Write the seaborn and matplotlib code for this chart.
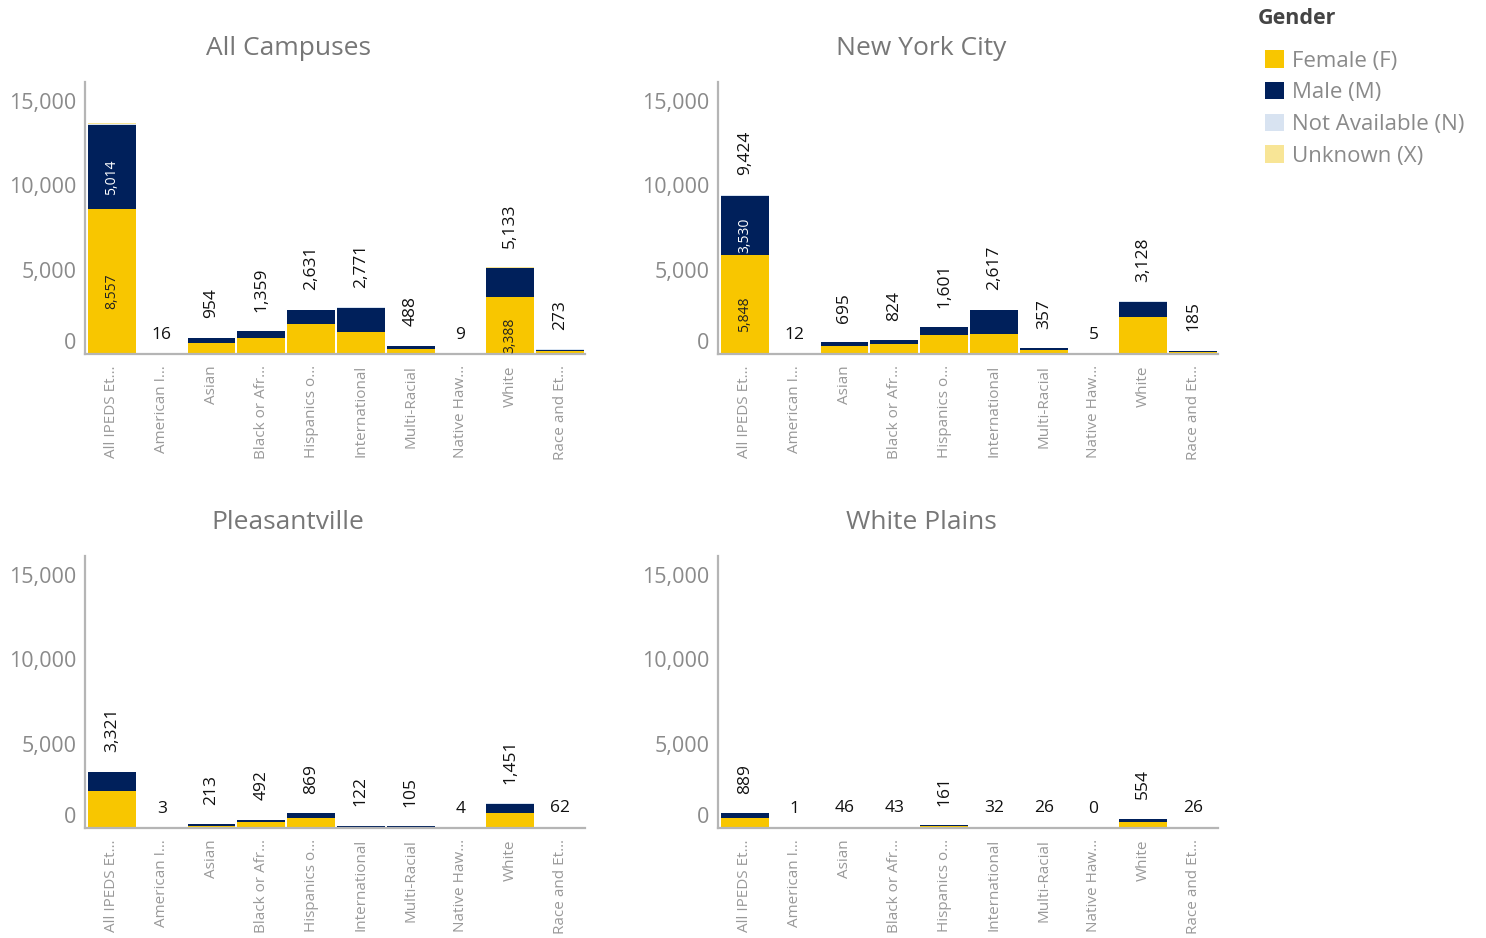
import pandas as pd
import matplotlib
matplotlib.use('Agg')
import matplotlib.pyplot as plt
from matplotlib.patches import Patch
import seaborn as sns

# categories (truncated the way the dashboard shows them)
groups = ['All IPEDS Et…', 'American I…', 'Asian', 'Black or Afr…', 'Hispanics o…',
          'International', 'Multi-Racial', 'Native Haw…', 'White', 'Race and Et…']
campuses = ['All Campuses', 'New York City', 'Pleasantville', 'White Plains']
genders = ['Female (F)', 'Male (M)', 'Not Available (N)', 'Unknown (X)']
gender_colors = ['#F8C600', '#00205B', '#D8E3F1', '#F8E596']

# enrolment counts per campus and gender
all_female = [8557, 7, 640, 950, 1800, 1300, 320, 4, 3388, 160]
all_male = [5014, 9, 300, 390, 800, 1450, 160, 5, 1700, 100]
all_na = [40, 0, 14, 19, 31, 21, 8, 0, 20, 13]
all_unk = [60, 0, 0, 0, 0, 0, 0, 0, 25, 0]

nyc_female = [5848, 5, 480, 600, 1130, 1190, 240, 3, 2180, 130]
nyc_male = [3530, 7, 205, 215, 450, 1410, 110, 2, 920, 45]
nyc_na = [20, 0, 10, 9, 21, 17, 7, 0, 28, 10]
nyc_unk = [26, 0, 0, 0, 0, 0, 0, 0, 0, 0]

pv_female = [2170, 1, 130, 350, 570, 70, 70, 2, 870, 35]
pv_male = [1130, 2, 80, 130, 290, 50, 33, 2, 570, 15]
pv_na = [21, 0, 3, 12, 9, 2, 2, 0, 11, 12]
pv_unk = [0, 0, 0, 0, 0, 0, 0, 0, 0, 0]

wp_female = [570, 1, 25, 25, 110, 15, 15, 0, 340, 10]
wp_male = [310, 0, 20, 17, 45, 16, 10, 0, 205, 5]
wp_na = [9, 0, 1, 1, 6, 1, 1, 0, 9, 11]
wp_unk = [0, 0, 0, 0, 0, 0, 0, 0, 0, 0]

# segment labels drawn inside the bars: (campus, group index, gender index)
inside_labels = [('All Campuses', 0, 0), ('All Campuses', 0, 1), ('All Campuses', 8, 0),
                 ('New York City', 0, 0), ('New York City', 0, 1)]

yticks = [0, 5000, 10000, 15000]

series = {
    'All Campuses': [all_female, all_male, all_na, all_unk],
    'New York City': [nyc_female, nyc_male, nyc_na, nyc_unk],
    'Pleasantville': [pv_female, pv_male, pv_na, pv_unk],
    'White Plains': [wp_female, wp_male, wp_na, wp_unk],
}

rows = []
for campus in campuses:
    for i, g in enumerate(groups):
        vals = [s[i] for s in series[campus]]
        rows.append({'campus': campus, 'group': g, 'F': vals[0], 'M': vals[1],
                     'N': vals[2], 'X': vals[3]})
df = pd.DataFrame(rows)
df['c_F'] = df['F']
df['c_M'] = df['c_F'] + df['M']
df['c_N'] = df['c_M'] + df['N']
df['c_X'] = df['c_N'] + df['X']
df['total'] = df['c_X']

sns.set_theme(style='white')
plt.rcParams['font.family'] = ['Open Sans', 'DejaVu Sans']

fig = plt.figure(figsize=(14.86, 9.38), dpi=100)
W, H = 1486, 938
positions = {
    'All Campuses': (85, 82),
    'New York City': (718, 82),
    'Pleasantville': (85, 556),
    'White Plains': (718, 556),
}
ax_w, ax_h = 500, 272
ymax = 16100

for campus in campuses:
    x0, y0 = positions[campus]
    ax = fig.add_axes([x0 / W, 1 - (y0 + ax_h) / H, ax_w / W, ax_h / H])
    d = df[df['campus'] == campus].reset_index(drop=True)

    # layered cumulative bars, tallest first
    for col, color in zip(['c_X', 'c_N', 'c_M', 'c_F'], gender_colors[::-1]):
        sns.barplot(data=d, x='group', y=col, color=color, saturation=1,
                    width=0.96, linewidth=0, ax=ax, errorbar=None)

    ax.set_ylim(0, ymax)
    ax.set_xlim(-0.54, len(groups) - 0.5)
    ax.set_yticks(yticks)
    ax.set_yticklabels([f'{v:,}' for v in yticks])
    ax.get_yticklabels()[0].set_va('bottom')
    ax.tick_params(axis='y', labelsize=15.5, labelcolor='#8a8a8a', length=0, pad=6)
    ax.tick_params(axis='x', labelsize=11, labelcolor='#999999', length=0,
                   rotation=90, pad=8)
    ax.set_xlabel('')
    ax.set_ylabel('')
    for side in ['top', 'right']:
        ax.spines[side].set_visible(False)
    for side in ['left', 'bottom']:
        ax.spines[side].set_color('#b5b5b5')
        ax.spines[side].set_linewidth(1.6)

    ax.text(0.406, 1 + 34 / ax_h, campus, transform=ax.transAxes, ha='center',
            va='center', fontsize=19, color='#777777')

    # totals above the bars (skipped when the bar carries inside labels and no room)
    has_inside = {(c, i) for c, i, _ in inside_labels}
    for i, row in d.iterrows():
        total = int(row['total'])
        if (campus, i) in has_inside and total > 12000:
            continue
        txt = f'{total:,}'
        if len(txt) >= 3:
            ax.annotate(txt, (i, total), xytext=(0, 14), textcoords='offset points',
                        ha='center', va='bottom', rotation=90, fontsize=12.5,
                        color='#111111')
        else:
            ax.annotate(txt, (i, total), xytext=(0, 8), textcoords='offset points',
                        ha='center', va='bottom', fontsize=12.5, color='#111111')

    for c, i, gi in inside_labels:
        if c != campus:
            continue
        row = d.iloc[i]
        lo = [0, row['c_F'], row['c_M'], row['c_N']][gi]
        hi = [row['c_F'], row['c_M'], row['c_N'], row['c_X']][gi]
        val = int(hi - lo)
        ax.annotate(f'{val:,}', (i, (lo + hi) / 2), xytext=(0, -7),
                    textcoords='offset points', ha='center', va='center',
                    rotation=90, fontsize=10,
                    color='#222222' if gi == 0 else 'white')

fig.text(1258 / W, 1 - 18 / H, 'Gender', ha='left', va='center', fontsize=15.5,
         fontweight='bold', color='#444444')
handles = [Patch(facecolor=c, edgecolor='none') for c in gender_colors]
leg = fig.legend(handles, genders, loc='upper left',
                 bbox_to_anchor=(1265 / W, 1 - 50 / H), frameon=False, borderpad=0,
                 borderaxespad=0, fontsize=16, handlelength=0.85, handleheight=0.85,
                 handletextpad=0.35, labelspacing=0.46)
for t in leg.get_texts():
    t.set_color('#8a8a8a')

fig.savefig('out.png', dpi=100)
